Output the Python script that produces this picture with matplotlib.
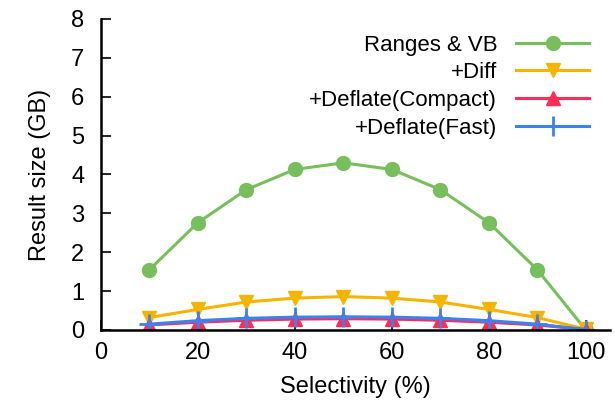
import matplotlib
matplotlib.use("Agg")
import matplotlib.pyplot as plt

plt.rcParams["font.family"] = ["Liberation Sans", "DejaVu Sans"]

selectivity = [10, 20, 30, 40, 50, 60, 70, 80, 90, 100]
ranges_vb = [1.55, 2.76, 3.61, 4.13, 4.30, 4.13, 3.61, 2.76, 1.55, 0.0]
diff = [0.32, 0.53, 0.72, 0.82, 0.86, 0.82, 0.72, 0.53, 0.32, 0.02]
deflate_compact = [0.13, 0.20, 0.25, 0.28, 0.29, 0.28, 0.25, 0.20, 0.13, 0.01]
deflate_fast = [0.15, 0.24, 0.30, 0.33, 0.34, 0.33, 0.30, 0.24, 0.15, 0.01]

fig = plt.figure(figsize=(6.15, 4.13), dpi=100)
ax = fig.add_axes([0.164, 0.201, 0.828, 0.753])

ax.plot(selectivity, ranges_vb, color="#77bf5a", marker="o", markersize=10, lw=2.2, label="Ranges & VB")
ax.plot(selectivity, diff, color="#f5b400", marker="v", markersize=10, lw=2.2, label="+Diff")
ax.plot(selectivity, deflate_compact, color="#ff2d55", marker="^", markersize=10, lw=2.2, label="+Deflate(Compact)")
ax.plot(selectivity, deflate_fast, color="#3b82f0", marker="+", markersize=14, mew=2, lw=2.2, label="+Deflate(Fast)")

ax.set_xlim(0, 105)
ax.set_ylim(0, 8)
ax.set_xticks([0, 20, 40, 60, 80, 100])
ax.set_yticks(range(0, 9))
ax.tick_params(direction="in", length=7, width=1.2, labelsize=17)
ax.tick_params(axis="x", pad=9)
ax.tick_params(axis="y", pad=12)
for s in ["top", "right"]:
    ax.spines[s].set_visible(False)
for s in ["left", "bottom"]:
    ax.spines[s].set_linewidth(1.8)

ax.set_xlabel("Selectivity (%)", fontsize=17, labelpad=8)
ax.set_ylabel("Result size (GB)", fontsize=17, labelpad=14)

ax.legend(loc="upper right", frameon=False, markerfirst=False, fontsize=16,
          handlelength=3.3, handletextpad=0.85, labelspacing=0.3,
          borderaxespad=0.3, bbox_to_anchor=(0.99, 1.0))

fig.savefig("out.png", dpi=100)
